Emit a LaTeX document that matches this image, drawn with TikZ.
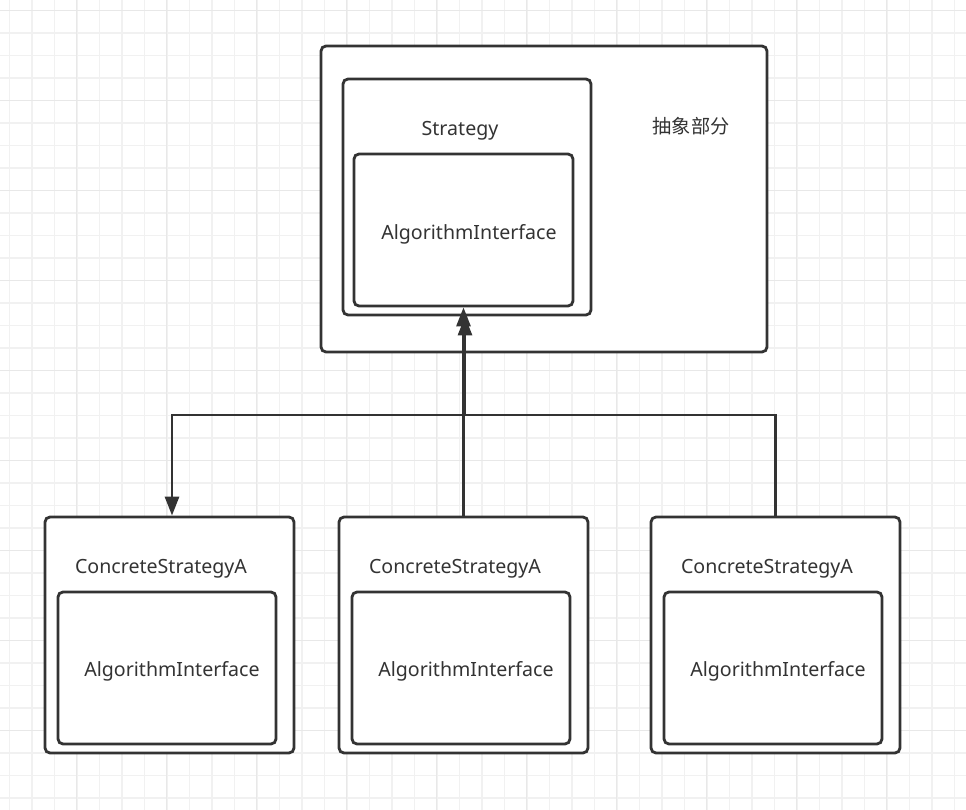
\documentclass[tikz,border=0pt]{standalone}
\usepackage{fontspec}
\setmainfont{Noto Sans}
\newfontfamily\cjk{Noto Sans CJK SC}
\usetikzlibrary{arrows.meta}
\definecolor{ink}{HTML}{333333}
\definecolor{gminor}{HTML}{F1F1F1}
\definecolor{gmajor}{HTML}{E8E8E8}
\begin{document}
\begin{tikzpicture}[x=1pt,y=-1pt,
  box/.style={draw=ink, line width=2.8pt, rounded corners=5pt, fill=white, inner sep=0pt},
  lbl/.style={text=ink, font=\fontsize{19.6}{22}\selectfont, inner sep=0pt, yshift=-2.5pt},
  conn/.style={draw=ink, line width=2.8pt},
  tip/.style={-{Triangle[length=19pt,width=14pt]}}]
\useasboundingbox (0,0) rectangle (966,810);
\fill[white] (0,0) rectangle (966,810);
\foreach \i in {0,...,42} \draw[gminor, line width=1.5pt] ({9.3+22.5*\i},0) -- ++(0,810);
\foreach \i in {0,...,35} \draw[gminor, line width=1.5pt] (0,{10.7+22.5*\i}) -- ++(966,0);
\foreach \i in {0,...,10} \draw[gmajor, line width=1.5pt] ({-13.3+90*\i},0) -- ++(0,810);
\foreach \i in {0,...,9} \draw[gmajor, line width=1.5pt] (0,{10.7+90*\i}) -- ++(966,0);
% top group
\node[box, minimum width=446pt, minimum height=306pt] (outer) at (544,199) {};
\node[box, minimum width=248pt, minimum height=236pt] (strat) at (467,197) {};
\node[box, minimum width=219pt, minimum height=152pt] (ai) at (463.5,230) {};
\node[lbl] (tstrat) at (460,128) {Strategy};
\node[lbl] (tai) at (469,232) {AlgorithmInterface};
\node[lbl, font=\cjk\fontsize{19.2}{22}\selectfont, yshift=2.5pt] (tabs) at (691,126) {抽象部分};
% bottom boxes
\node[box, minimum width=249pt, minimum height=236pt] (b1) at (169.5,635) {};
\node[box, minimum width=218pt, minimum height=152pt] (i1) at (167,668) {};
\node[lbl] (c1) at (161,566) {ConcreteStrategyA};
\node[lbl] (a1) at (172,669) {AlgorithmInterface};
\node[box, minimum width=249pt, minimum height=236pt] (b2) at (463.5,635) {};
\node[box, minimum width=218pt, minimum height=152pt] (i2) at (461,668) {};
\node[lbl] (c2) at (455,566) {ConcreteStrategyA};
\node[lbl] (a2) at (466,669) {AlgorithmInterface};
\node[box, minimum width=249pt, minimum height=236pt] (b3) at (775.5,635) {};
\node[box, minimum width=218pt, minimum height=152pt] (i3) at (773,668) {};
\node[lbl] (c3) at (767,566) {ConcreteStrategyA};
\node[lbl] (a3) at (778,669) {AlgorithmInterface};
% connectors
\coordinate (j) at (465,415);
\coordinate (b1top) at ([xshift=2.5pt]b1.north);
\draw[conn, tip] (strat.south -| j) -- (j) -| (b1top);
\draw[conn, tip] (b3.north) |- (j) -- (strat.south -| j);
\draw[conn, tip] (b2.north) -- (ai.south -| b2.north);
\end{tikzpicture}
\end{document}
